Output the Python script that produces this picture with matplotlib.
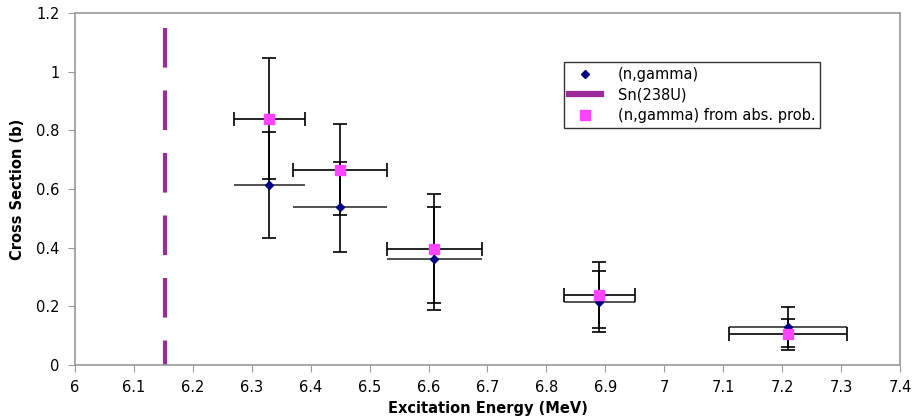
import matplotlib.pyplot as plt
from matplotlib.lines import Line2D

# (n,gamma)
energy = [6.33, 6.45, 6.61, 6.89, 7.21]
energy_err = [0.06, 0.08, 0.08, 0.06, 0.10]
xs = [0.613, 0.538, 0.362, 0.216, 0.131]
xs_err = [0.18, 0.154, 0.176, 0.105, 0.068]

# (n,gamma) from abs. prob.
xs_abs = [0.84, 0.666, 0.397, 0.239, 0.104]
xs_abs_err = [0.205, 0.156, 0.186, 0.112, 0.052]

# Sn(238U)
sn_energy = 6.153
sn_top = 1.15

fig = plt.figure(figsize=(9.23, 4.2), dpi=100)
ax = fig.add_axes([75 / 923, 55 / 420, 825 / 923, 352 / 420])

# Sn line, drawn top-down so the dashes start at the top
ax.plot([sn_energy, sn_energy], [sn_top, 0], color='#9B2A9B', linewidth=3,
        dashes=(9.5, 5.5), solid_capstyle='butt', dash_capstyle='butt', zorder=2)

# blue points: caps only on y
ax.errorbar(energy, xs, xerr=energy_err, fmt='none', ecolor='#333333',
            elinewidth=1.2, capsize=0, zorder=3)
ax.errorbar(energy, xs, yerr=xs_err, fmt='none', ecolor='black',
            elinewidth=1.2, capsize=5, capthick=1.2, zorder=3)
ax.plot(energy, xs, linestyle='none', marker='D', markersize=4.5,
        color='#000080', zorder=5)

# pink points
ax.errorbar(energy, xs_abs, xerr=energy_err, yerr=xs_abs_err, fmt='none',
            ecolor='black', elinewidth=1.2, capsize=5, capthick=1.2, zorder=3)
ax.plot(energy, xs_abs, linestyle='none', marker='s', markersize=7,
        color='#FF44FF', zorder=6)

ax.set_xlim(6.0, 7.4)
ax.set_ylim(0, 1.2)
ax.set_xticks([6 + 0.1 * i for i in range(15)])
ax.set_xticklabels(['6', '6.1', '6.2', '6.3', '6.4', '6.5', '6.6', '6.7', '6.8',
                    '6.9', '7', '7.1', '7.2', '7.3', '7.4'])
ax.set_yticks([0, 0.2, 0.4, 0.6, 0.8, 1.0, 1.2])
ax.set_yticklabels(['0', '0.2', '0.4', '0.6', '0.8', '1', '1.2'])
ax.tick_params(labelsize=10.5, length=5, color='#999999', direction='out', pad=6)
for s in ax.spines.values():
    s.set_color('#999999')
    s.set_linewidth(1.2)

ax.set_xlabel('Excitation Energy (MeV)', fontsize=10.5, fontweight='bold', labelpad=4)
ax.set_ylabel('Cross Section (b)', fontsize=10.5, fontweight='bold', labelpad=8)

handles = [
    Line2D([], [], linestyle='none', marker='D', markersize=4.5, color='#000080'),
    Line2D([], [], color='#9B2A9B', linewidth=4.5),
    Line2D([], [], linestyle='none', marker='s', markersize=7, color='#FF44FF'),
]
leg = ax.legend(handles, ['(n,gamma)', 'Sn(238U)', '(n,gamma) from abs. prob.'],
                loc='upper left', bbox_to_anchor=(0.593, 0.86), fontsize=10.5,
                frameon=True, fancybox=False, borderpad=0.3, labelspacing=0.4,
                handlelength=2.2, handletextpad=1.2, borderaxespad=0)
leg.get_frame().set_edgecolor('black')
leg.get_frame().set_linewidth(1.0)

fig.savefig('out.png', dpi=100)
